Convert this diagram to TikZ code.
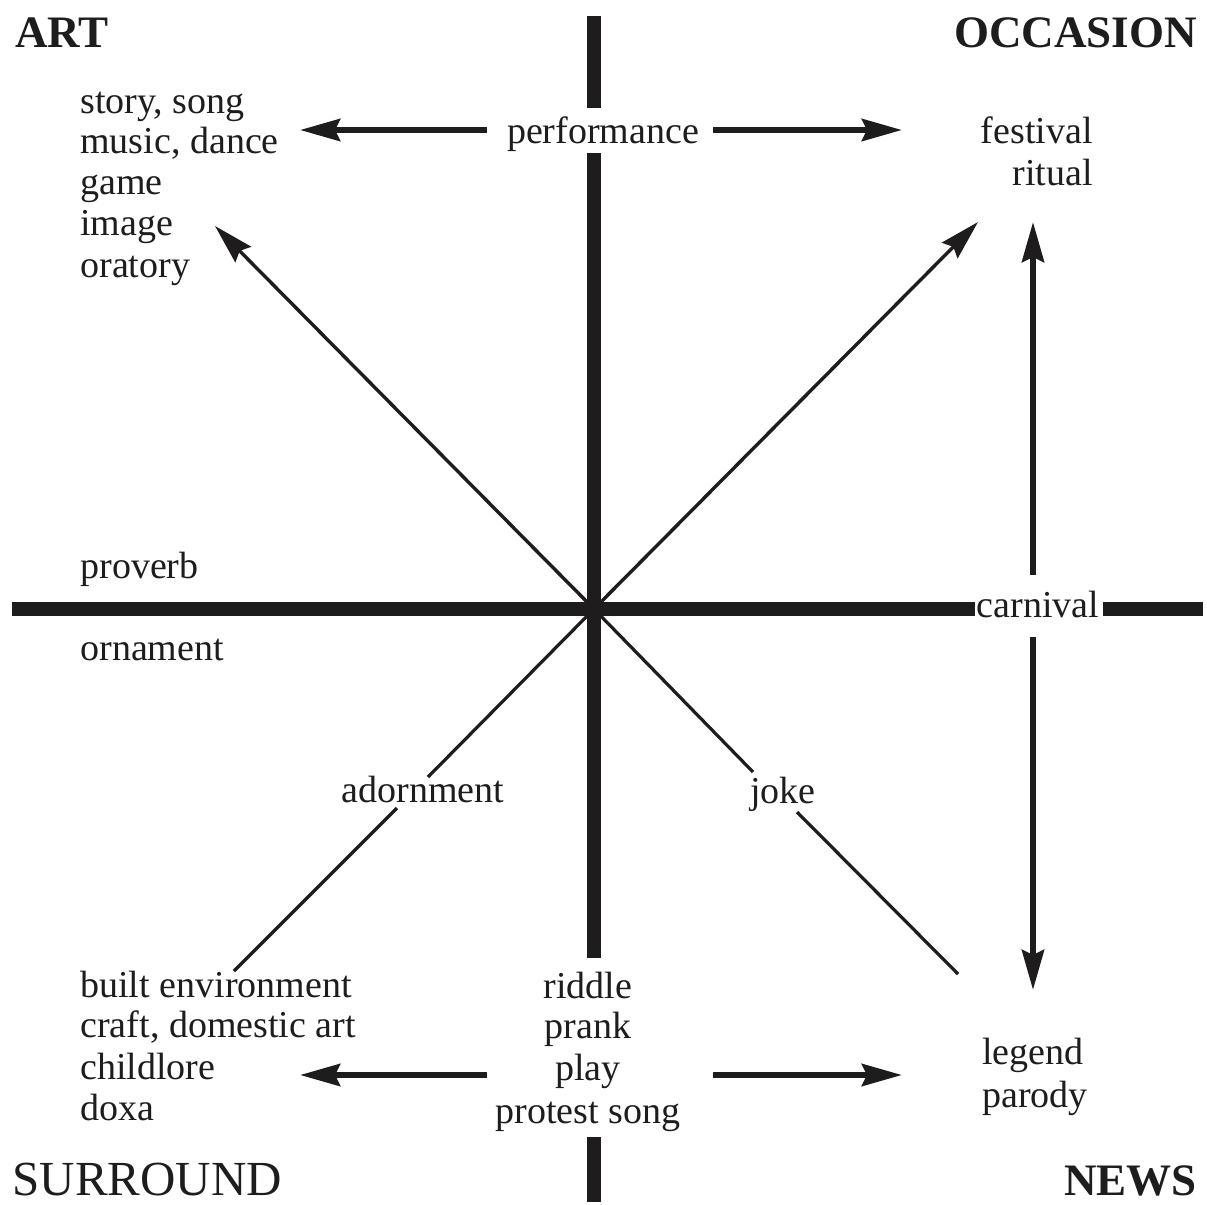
\documentclass[tikz,border=0pt]{standalone}
\usepackage{fontspec}
\setmainfont{Liberation Serif}
\usetikzlibrary{arrows.meta}
\definecolor{ink}{RGB}{30,28,28}
\begin{document}
\begin{tikzpicture}[x=0.5pt,y=-0.5pt,
  lbl/.style={inner sep=0pt, text=ink, font=\fontsize{19}{20.5}\selectfont},
  cornerb/.style={inner sep=0pt, text=ink, font=\fontsize{22.5}{25}\selectfont\bfseries},
  cornerr/.style={inner sep=0pt, text=ink, font=\fontsize{24.5}{26}\selectfont},
  bar/.style={draw=ink, line width=7pt},
  arr/.style={draw=ink, line width=3pt, -{Stealth[length=20pt,width=11pt,inset=2.5pt]}},
  diag/.style={draw=ink, line width=1.6pt},
  diagarr/.style={draw=ink, line width=1.7pt, -{Stealth[length=20pt,width=11pt,inset=2.5pt]}},
]
\useasboundingbox[fill=white] (0,0) rectangle (1207,1205);

% corner labels
\node[cornerb, anchor=base west] (art) at (15,47) {ART};
\node[cornerb, anchor=base east] (occ) at (1197,47) {OCCASION};
\node[cornerr, anchor=base west] (sur) at (12,1195) {SURROUND};
\node[cornerb, anchor=base east] (news) at (1197,1195) {NEWS};

% art list
\node[lbl, anchor=base west] (a1) at (80,113) {story, song};
\node[lbl, anchor=base west] (a2) at (80,153) {music, dance};
\node[lbl, anchor=base west] (a3) at (80,194) {game};
\node[lbl, anchor=base west] (a4) at (80,235) {image};
\node[lbl, anchor=base west] (a5) at (80,277) {oratory};

\node[lbl, anchor=base] (perf) at (603,143) {performance};

\node[lbl, anchor=base east] (o1) at (1093,143) {festival};
\node[lbl, anchor=base east] (o2) at (1093,185) {ritual};

\node[lbl, anchor=base west] (prov) at (80,578) {proverb};
\node[lbl, anchor=base west] (orn) at (80,660) {ornament};

\node[lbl, anchor=base] (carn) at (1038,617) {carnival};
\node[lbl, anchor=base] (adorn) at (423,802) {adornment};
\node[lbl, anchor=base] (joke) at (783,803) {joke};

% surround list
\node[lbl, anchor=base west] (s1) at (80,997) {built environment};
\node[lbl, anchor=base west] (s2) at (80,1037) {craft, domestic art};
\node[lbl, anchor=base west] (s3) at (80,1079) {childlore};
\node[lbl, anchor=base west] (s4) at (80,1120) {doxa};

% middle bottom list
\node[lbl, anchor=base] (m1) at (588,998) {riddle};
\node[lbl, anchor=base] (m2) at (588,1038) {prank};
\node[lbl, anchor=base] (m3) at (588,1080) {play};
\node[lbl, anchor=base] (m4) at (588,1123) {protest song};

% news list
\node[lbl, anchor=base west] (n1) at (982,1064) {legend};
\node[lbl, anchor=base west] (n2) at (982,1107) {parody};

% coordinates
\coordinate (O) at (594,609);
\coordinate (vTop) at (594,16);
\coordinate (vA) at (594,108);
\coordinate (vB) at (594,153);
\coordinate (vC) at (594,958);
\coordinate (vD) at (594,1137);
\coordinate (vBot) at (594,1202);
\coordinate (hL) at (12,609);
\coordinate (hA) at (975,609);
\coordinate (hB) at (1103,609);
\coordinate (hR) at (1203,609);

\coordinate (pL) at (487,130);
\coordinate (pLt) at (300,130);
\coordinate (pR) at (713,130);
\coordinate (pRt) at (902,130);
\coordinate (bL) at (487,1075);
\coordinate (bLt) at (300,1075);
\coordinate (bR) at (713,1075);
\coordinate (bRt) at (902,1075);
\coordinate (cU) at (1033,575);
\coordinate (cUt) at (1033,222);
\coordinate (cD) at (1033,637);
\coordinate (cDt) at (1033,990);
\coordinate (ulT) at (215,226);
\coordinate (urT) at (978,222);
\coordinate (llA) at (428,777);
\coordinate (llB) at (397,808);
\coordinate (llE) at (234,971);
\coordinate (lrA) at (753,772);
\coordinate (lrB) at (797,812);
\coordinate (lrE) at (958,974);

% thick axes
\draw[bar] (vTop) -- (vA);
\draw[bar] (vB) -- (vC);
\draw[bar] (vD) -- (vBot);
\draw[bar] (hL) -- (hA);
\draw[bar] (hB) -- (hR);

% diagonals
\draw[diagarr] (O) -- (ulT);
\draw[diagarr] (O) -- (urT);
\draw[diag] (O) -- (llA);
\draw[diag] (llB) -- (llE);
\draw[diag] (O) -- (lrA);
\draw[diag] (lrB) -- (lrE);

% arrows
\draw[arr] (pL) -- (pLt);
\draw[arr] (pR) -- (pRt);
\draw[arr] (bL) -- (bLt);
\draw[arr] (bR) -- (bRt);
\draw[arr] (cU) -- (cUt);
\draw[arr] (cD) -- (cDt);
\end{tikzpicture}
\end{document}
